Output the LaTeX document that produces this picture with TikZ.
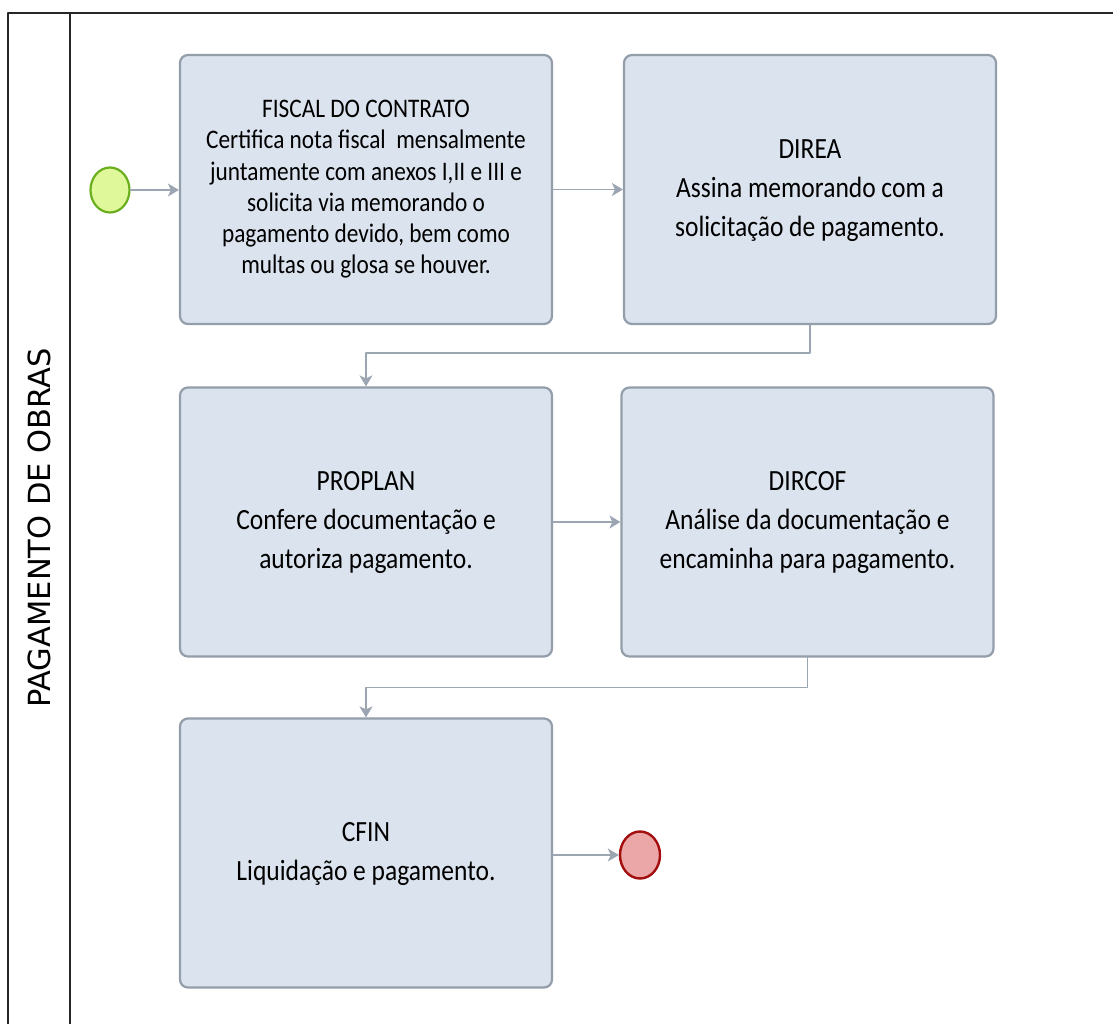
\documentclass[tikz,border=0pt]{standalone}
\usepackage{graphicx}
\usepackage{fontspec}
\setmainfont{Carlito}
\newfontfamily\lanefont{DejaVu Sans}
\usetikzlibrary{arrows.meta,shapes.geometric}
\definecolor{poFill}{HTML}{DBE3EE}
\definecolor{poEdge}{HTML}{939EAA}
\definecolor{poArrow}{HTML}{9BA6B2}
\definecolor{poStartFill}{HTML}{DFF99A}
\definecolor{poStartEdge}{HTML}{6BAF1F}
\definecolor{poEndFill}{HTML}{EBA7A8}
\definecolor{poEndEdge}{HTML}{A30D0D}
% task text, a little taller than wide, as in the source drawing
\newcommand{\poText}[1]{\scalebox{1}[1.15]{\begin{tabular}{@{}c@{}}#1\end{tabular}}}
\tikzset{
  po diagram/.style={x=1pt, y=-1pt, line cap=round, line join=round},
  po frame/.style={draw=black!85, line width=1.4pt},
  po box/.style={draw=poEdge, fill=poFill, line width=2.2pt,
    rounded corners=8pt, minimum width=372pt, minimum height=269pt,
    align=center, font=\fontsize{25.5}{33.9}\selectfont, text=black},
  po dense box/.style={po box, font=\fontsize{23.3}{27.1}\selectfont},
  po arrow/.style={-{Stealth[length=11pt,width=13pt,inset=3pt]},
    draw=poArrow, line width=1.4pt},
  po start/.style={ellipse, draw=poStartEdge, fill=poStartFill,
    line width=2.2pt, minimum width=39pt, minimum height=45pt, inner sep=0pt},
  po end/.style={ellipse, draw=poEndEdge, fill=poEndFill,
    line width=2.4pt, minimum width=40pt, minimum height=47pt, inner sep=0pt},
  po lane label/.style={rotate=90, font=\lanefont\fontsize{30.5}{36}\selectfont}
}
\begin{document}
\begin{tikzpicture}[po diagram]
\useasboundingbox[fill=white] (0,0) rectangle (1113,1024);
% pool frame
\draw[po frame] (1113,13) -- (8,13) -- (8,1024);
\draw[po frame] (70,13) -- (70,1024);
\node[po lane label] (lane) at (39,528) {PAGAMENTO DE OBRAS};
% tasks
\node[po dense box] (fiscal) at (366,189.5) {\poText{FISCAL DO CONTRATO\\
  Certifica nota fiscal~ mensalmente\\
  juntamente com anexos I,II e III e\\
  solicita via memorando o\\
  pagamento devido, bem como\\
  multas ou glosa se houver.}};
\node[po box] (direa) at (810,189.5) {\poText{DIREA\\
  Assina memorando com a\\
  solicitação de pagamento.}};
\node[po box] (proplan) at (366,522) {\poText{PROPLAN\\
  Confere documentação e\\
  autoriza pagamento.}};
\node[po box] (dircof) at (807.5,522) {\poText{DIRCOF\\
  Análise da documentação e\\
  encaminha para pagamento.}};
\node[po box] (cfin) at (366,853) {\poText{CFIN\\
  Liquidação e pagamento.}};
% events
\node[po start] (start) at (110,190) {};
\node[po end] (stop) at (640,855) {};
% flow
\draw[po arrow] (start.east) -- (start.east -| fiscal.west);
\draw[po arrow] (fiscal) -- (direa);
\draw[po arrow] (direa.south) -- ++(0,28) -| (proplan.north);
\draw[po arrow] (proplan) -- (dircof);
\draw[po arrow] (dircof.south) -- ++(0,30) -| (cfin.north);
\draw[po arrow] (cfin.east |- stop) -- (stop);
\end{tikzpicture}
\end{document}
